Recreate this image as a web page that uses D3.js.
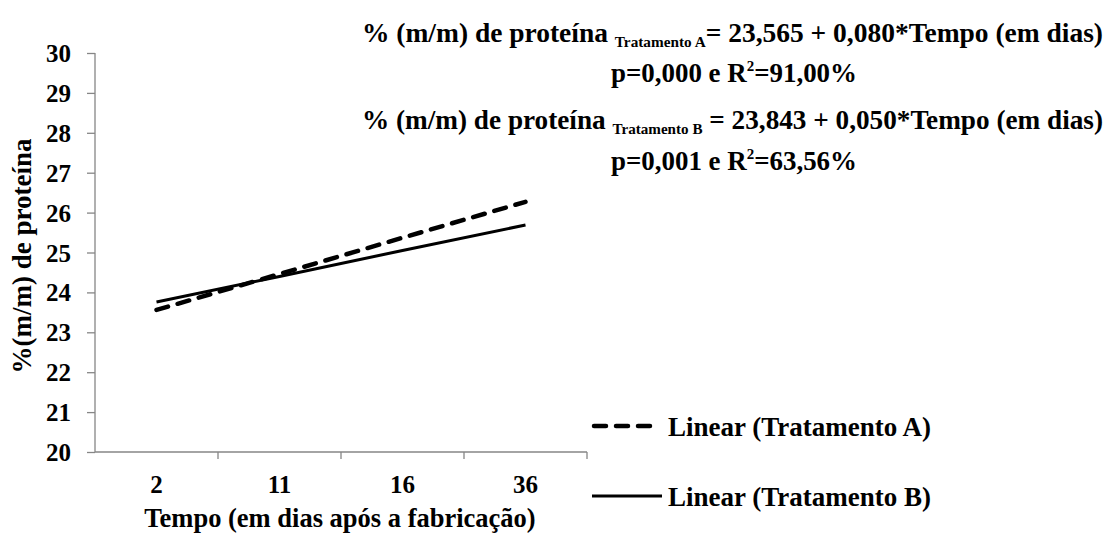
<!DOCTYPE html>
<html>
<head>
<meta charset="utf-8">
<script src="https://cdn.jsdelivr.net/npm/d3@7"></script>
<style>
  html, body { margin: 0; padding: 0; background: #fff; }
  svg text { font-family: "Liberation Serif", "Times New Roman", serif; font-weight: bold; fill: #000; }
</style>
</head>
<body>
<svg id="chart" width="1113" height="537"></svg>
<script>
// Storage time categories (days after manufacture)
const categories = ["2", "11", "16", "36"];
// Linear trend values of protein content per category
const trendA = [23.56, 24.46, 25.37, 26.27];
const trendB = [23.76, 24.40, 25.05, 25.69];
const yTicks = [20, 21, 22, 23, 24, 25, 26, 27, 28, 29, 30];
const seriesNames = ["Linear (Tratamento A)", "Linear (Tratamento B)"];

const svg = d3.select("#chart");
const plot = { left: 95, right: 587, top: 53, bottom: 452 };

const x = d3.scaleBand().domain(categories).range([plot.left, plot.right]);
const y = d3.scaleLinear().domain([20, 30]).range([plot.bottom, plot.top]);

const axisColor = "#868686";

// Y axis
const yAxis = svg.append("g")
  .attr("transform", `translate(${plot.left},0)`)
  .call(d3.axisLeft(y).tickValues(yTicks).tickSize(8).tickPadding(16).tickFormat(d3.format("d")));
yAxis.select(".domain").attr("stroke", axisColor).attr("stroke-width", 1.3).attr("d", `M0,${plot.top}V${plot.bottom}`);
yAxis.selectAll(".tick line").attr("stroke", axisColor).attr("stroke-width", 1.3);
yAxis.selectAll(".tick text").style("font-size", "25px").attr("fill", "#000").attr("dy", "0.34em");

// X axis (category boundaries as ticks)
const xAxisG = svg.append("g").attr("transform", `translate(0,${plot.bottom})`);
xAxisG.append("line").attr("x1", plot.left).attr("x2", plot.right)
  .attr("stroke", axisColor).attr("stroke-width", 1.3);
xAxisG.selectAll("line.bt").data(categories).join("line").attr("class", "bt")
  .attr("x1", d => x(d) + x.bandwidth()).attr("x2", d => x(d) + x.bandwidth())
  .attr("y1", 0).attr("y2", 7).attr("stroke", axisColor).attr("stroke-width", 1.3);
xAxisG.selectAll("text").data(categories).join("text")
  .attr("x", d => x(d) + x.bandwidth() / 2).attr("y", 41)
  .attr("text-anchor", "middle").style("font-size", "25px").text(d => d);

// Axis titles
svg.append("text").attr("x", 340).attr("y", 527).attr("text-anchor", "middle")
  .style("font-size", "26.5px").text("Tempo (em dias após a fabricação)");
svg.append("text").attr("transform", "translate(31,256) rotate(-90)").attr("text-anchor", "middle")
  .style("font-size", "27px").text("%(m/m) de proteína");

// Trend lines
const line = d3.line().x((d, i) => x(categories[i]) + x.bandwidth() / 2).y(d => y(d));
svg.append("path").datum(trendB).attr("d", line).attr("fill", "none")
  .attr("stroke", "#000").attr("stroke-width", 3);
svg.append("path").datum(trendA).attr("d", line).attr("fill", "none")
  .attr("stroke", "#000").attr("stroke-width", 4.5)
  .attr("stroke-dasharray", "12,10").attr("stroke-linecap", "round");

// Legend
const legend = svg.append("g");
legend.append("line").attr("x1", 594).attr("x2", 653).attr("y1", 426).attr("y2", 426)
  .attr("stroke", "#000").attr("stroke-width", 4.5).attr("stroke-dasharray", "12,10").attr("stroke-linecap", "round");
legend.append("line").attr("x1", 592).attr("x2", 662).attr("y1", 496).attr("y2", 496)
  .attr("stroke", "#000").attr("stroke-width", 3);
legend.selectAll("text").data(seriesNames).join("text")
  .attr("x", 668).attr("y", (d, i) => i === 0 ? 436 : 506)
  .style("font-size", "27px").text(d => d);

// Regression equations
function equation(yPos, sub, rest) {
  const t = svg.append("text").attr("x", 362).attr("y", yPos).style("font-size", "27px")
    .attr("textLength", 741).attr("lengthAdjust", "spacingAndGlyphs");
  t.append("tspan").text("% (m/m) de proteína ");
  t.append("tspan").style("font-size", "15px").attr("dy", 5).text(sub);
  t.append("tspan").attr("dy", -5).text(rest);
}
function stats(yPos, p, r2) {
  const t = svg.append("text").attr("x", 734).attr("y", yPos).attr("text-anchor", "middle")
    .style("font-size", "27px").attr("textLength", 246).attr("lengthAdjust", "spacingAndGlyphs");
  t.append("tspan").text(`p=${p} e R`);
  t.append("tspan").style("font-size", "15px").attr("dy", -11).text("2");
  t.append("tspan").attr("dy", 11).text(`=${r2}`);
}
equation(42, "Tratamento A", "= 23,565 + 0,080*Tempo (em dias)");
stats(82, "0,000", "91,00%");
equation(129, "Tratamento B", " = 23,843 + 0,050*Tempo (em dias)");
stats(170, "0,001", "63,56%");
</script>
</body>
</html>
